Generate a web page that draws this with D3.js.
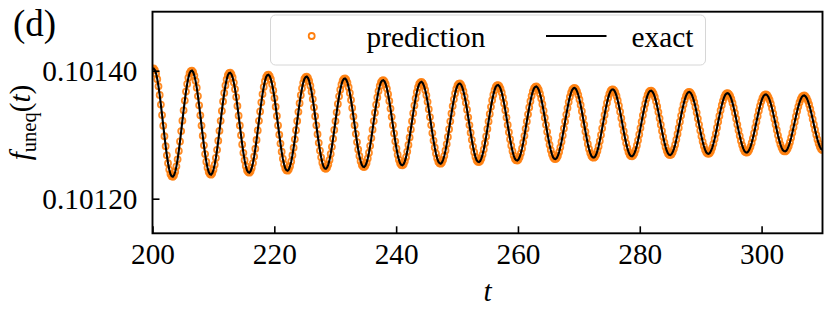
<!DOCTYPE html>
<html>
<head>
<meta charset="utf-8">
<script src="https://cdn.jsdelivr.net/npm/d3@7/dist/d3.min.js"></script>
<style>
  body { margin: 0; background: #fff; }
  svg { display: block; font-family: "Liberation Serif", "DejaVu Serif", serif; }
</style>
</head>
<body>
<div id="chart"></div>
<script>
// axis ticks
const xTicks = [200, 220, 240, 260, 280, 300];
const yTicks = [0.10120, 0.10140];

// sampling grid of the time series (32 samples per oscillation)
const tStart = 200;
const tStep = 0.19635;

// f_uneq(t), one line per oscillation
const prediction = [
  0.1014026, 0.1014034, 0.1014010, 0.1013954, 0.1013868, 0.1013756, 0.1013622, 0.1013470, 0.1013306, 0.1013141, 0.1012976, 0.1012820, 0.1012677, 0.1012554, 0.1012455, 0.1012384,
  0.1012351, 0.1012343, 0.1012366, 0.1012421, 0.1012505, 0.1012615, 0.1012747, 0.1012895, 0.1013056, 0.1013219, 0.1013380, 0.1013533, 0.1013673, 0.1013794, 0.1013891, 0.1013961,
  0.1013993, 0.1014001, 0.1013978, 0.1013924, 0.1013841, 0.1013734, 0.1013604, 0.1013459, 0.1013302, 0.1013142, 0.1012984, 0.1012834, 0.1012697, 0.1012579, 0.1012483, 0.1012415,
  0.1012384, 0.1012375, 0.1012398, 0.1012451, 0.1012532, 0.1012637, 0.1012764, 0.1012907, 0.1013061, 0.1013217, 0.1013372, 0.1013519, 0.1013653, 0.1013770, 0.1013863, 0.1013930,
  0.1013961, 0.1013969, 0.1013946, 0.1013894, 0.1013815, 0.1013712, 0.1013588, 0.1013448, 0.1013297, 0.1013144, 0.1012992, 0.1012848, 0.1012716, 0.1012602, 0.1012511, 0.1012445,
  0.1012415, 0.1012407, 0.1012429, 0.1012480, 0.1012557, 0.1012659, 0.1012780, 0.1012917, 0.1013066, 0.1013216, 0.1013364, 0.1013506, 0.1013635, 0.1013746, 0.1013836, 0.1013901,
  0.1013930, 0.1013938, 0.1013916, 0.1013867, 0.1013790, 0.1013691, 0.1013572, 0.1013437, 0.1013292, 0.1013145, 0.1012999, 0.1012861, 0.1012734, 0.1012625, 0.1012537, 0.1012474,
  0.1012445, 0.1012437, 0.1012458, 0.1012507, 0.1012582, 0.1012679, 0.1012796, 0.1012928, 0.1013070, 0.1013214, 0.1013357, 0.1013493, 0.1013617, 0.1013724, 0.1013810, 0.1013872,
  0.1013901, 0.1013908, 0.1013887, 0.1013840, 0.1013766, 0.1013671, 0.1013556, 0.1013427, 0.1013288, 0.1013147, 0.1013007, 0.1012873, 0.1012752, 0.1012647, 0.1012562, 0.1012501,
  0.1012474, 0.1012466, 0.1012487, 0.1012533, 0.1012605, 0.1012699, 0.1012811, 0.1012938, 0.1013074, 0.1013213, 0.1013350, 0.1013481, 0.1013600, 0.1013703, 0.1013785, 0.1013845,
  0.1013872, 0.1013879, 0.1013860, 0.1013814, 0.1013743, 0.1013652, 0.1013542, 0.1013418, 0.1013284, 0.1013148, 0.1013013, 0.1012885, 0.1012769, 0.1012668, 0.1012586, 0.1012528,
  0.1012501, 0.1012494, 0.1012514, 0.1012559, 0.1012628, 0.1012718, 0.1012826, 0.1012947, 0.1013078, 0.1013212, 0.1013343, 0.1013469, 0.1013583, 0.1013682, 0.1013762, 0.1013819,
  0.1013845, 0.1013852, 0.1013833, 0.1013789, 0.1013721, 0.1013633, 0.1013527, 0.1013408, 0.1013279, 0.1013149, 0.1013020, 0.1012897, 0.1012785, 0.1012688, 0.1012610, 0.1012554,
  0.1012528, 0.1012521, 0.1012540, 0.1012583, 0.1012649, 0.1012736, 0.1012840, 0.1012956, 0.1013082, 0.1013210, 0.1013337, 0.1013457, 0.1013567, 0.1013663, 0.1013739, 0.1013794,
  0.1013819, 0.1013826, 0.1013807, 0.1013765, 0.1013700, 0.1013615, 0.1013514, 0.1013399, 0.1013276, 0.1013150, 0.1013026, 0.1012908, 0.1012800, 0.1012707, 0.1012632, 0.1012578,
  0.1012554, 0.1012547, 0.1012565, 0.1012607, 0.1012670, 0.1012753, 0.1012853, 0.1012965, 0.1013086, 0.1013209, 0.1013331, 0.1013447, 0.1013552, 0.1013644, 0.1013717, 0.1013770,
  0.1013794, 0.1013800, 0.1013783, 0.1013742, 0.1013680, 0.1013598, 0.1013501, 0.1013391, 0.1013272, 0.1013151, 0.1013032, 0.1012919, 0.1012815, 0.1012726, 0.1012654, 0.1012602,
  0.1012578, 0.1012572, 0.1012589, 0.1012629, 0.1012690, 0.1012770, 0.1012866, 0.1012973, 0.1013090, 0.1013208, 0.1013325, 0.1013436, 0.1013538, 0.1013625, 0.1013696, 0.1013747,
  0.1013770, 0.1013776, 0.1013759, 0.1013720, 0.1013660, 0.1013582, 0.1013488, 0.1013382, 0.1013268, 0.1013153, 0.1013038, 0.1012929, 0.1012829, 0.1012743, 0.1012674, 0.1012624,
  0.1012602, 0.1012596, 0.1012612, 0.1012651, 0.1012709, 0.1012786, 0.1012878, 0.1012982, 0.1013094, 0.1013207, 0.1013319, 0.1013426, 0.1013524, 0.1013608, 0.1013676, 0.1013725,
  0.1013747, 0.1013753, 0.1013736, 0.1013699, 0.1013641, 0.1013566, 0.1013476, 0.1013375, 0.1013265, 0.1013154, 0.1013044, 0.1012939, 0.1012843, 0.1012760, 0.1012694, 0.1012646,
  0.1012624, 0.1012619, 0.1012635, 0.1012672, 0.1012728, 0.1012802, 0.1012890, 0.1012989, 0.1013097, 0.1013206, 0.1013314, 0.1013416, 0.1013510, 0.1013591, 0.1013656, 0.1013703,
  0.1013725, 0.1013730, 0.1013715, 0.1013678, 0.1013623, 0.1013551, 0.1013464, 0.1013367, 0.1013261, 0.1013155, 0.1013049, 0.1012948, 0.1012856, 0.1012777, 0.1012713, 0.1012667,
  0.1012646, 0.1012641, 0.1012656, 0.1012691, 0.1012746, 0.1012816, 0.1012901, 0.1012997, 0.1013100, 0.1013205, 0.1013308, 0.1013407, 0.1013497, 0.1013575, 0.1013638, 0.1013683,
  0.1013703, 0.1013709, 0.1013694, 0.1013659, 0.1013606, 0.1013536, 0.1013453, 0.1013360, 0.1013258, 0.1013156, 0.1013054, 0.1012957, 0.1012869, 0.1012793, 0.1012731, 0.1012687,
  0.1012667, 0.1012662, 0.1012677, 0.1012711, 0.1012763, 0.1012831, 0.1012912, 0.1013004, 0.1013103, 0.1013204, 0.1013303, 0.1013398, 0.1013485, 0.1013560, 0.1013620, 0.1013663,
  0.1013683, 0.1013688, 0.1013673, 0.1013640, 0.1013589, 0.1013522, 0.1013442, 0.1013353, 0.1013255, 0.1013157, 0.1013059, 0.1012966, 0.1012881, 0.1012808, 0.1012749, 0.1012707,
  0.1012687, 0.1012682, 0.1012696, 0.1012729, 0.1012779, 0.1012844, 0.1012923, 0.1013011, 0.1013106, 0.1013203, 0.1013299, 0.1013390, 0.1013473, 0.1013545, 0.1013602, 0.1013644,
  0.1013663, 0.1013668, 0.1013654, 0.1013622, 0.1013573, 0.1013509, 0.1013432, 0.1013346, 0.1013252, 0.1013158, 0.1013064, 0.1012974, 0.1012893, 0.1012823, 0.1012766, 0.1012725,
  0.1012707, 0.1012702, 0.1012715, 0.1012747, 0.1012795, 0.1012858, 0.1012933, 0.1013018, 0.1013109, 0.1013202, 0.1013294, 0.1013381, 0.1013461, 0.1013530, 0.1013586, 0.1013626,
  0.1013644, 0.1013649, 0.1013635, 0.1013605, 0.1013558, 0.1013496, 0.1013422, 0.1013339, 0.1013249, 0.1013158, 0.1013068, 0.1012982, 0.1012904, 0.1012837, 0.1012782, 0.1012743,
  0.1012725, 0.1012721, 0.1012734, 0.1012764, 0.1012810, 0.1012870, 0.1012943, 0.1013024, 0.1013112, 0.1013201, 0.1013289, 0.1013374, 0.1013450, 0.1013517, 0.1013570, 0.1013608,
  0.1013626, 0.1013630, 0.1013618, 0.1013588, 0.1013543, 0.1013484, 0.1013413, 0.1013333, 0.1013247, 0.1013159, 0.1013073, 0.1012990, 0.1012915, 0.1012850, 0.1012798, 0.1012760,
  0.1012743, 0.1012739, 0.1012751, 0.1012780, 0.1012824, 0.1012882, 0.1012952, 0.1013030, 0.1013115, 0.1013200, 0.1013285, 0.1013366, 0.1013440, 0.1013503, 0.1013555, 0.1013592,
  0.1013608, 0.1013613, 0.1013600, 0.1013572, 0.1013529, 0.1013472, 0.1013404, 0.1013327, 0.1013244, 0.1013160, 0.1013077, 0.1012998, 0.1012926, 0.1012863, 0.1012813, 0.1012777,
  0.1012760
];
// exact solution lies on top of the prediction at this scale
const exact = prediction;

const tVals = prediction.map((_, i) => tStart + i * tStep);

const width = 830, height = 311;
const plot = { left: 152.5, right: 822.5, top: 11.7, bottom: 233.3 };
const fontSize = 29.3;
const serif = '"Liberation Serif", "DejaVu Serif", serif';

const svg = d3.select('#chart')
    .append('svg')
    .attr('width', width)
    .attr('height', height);

const x = d3.scaleLinear().domain([200, 310]).range([plot.left, plot.right]);
const y = d3.scaleLinear().domain([0.1011459, 0.1014922]).range([plot.bottom, plot.top]);

svg.append('clipPath')
    .attr('id', 'clip')
    .append('rect')
    .attr('x', plot.left)
    .attr('y', plot.top)
    .attr('width', plot.right - plot.left)
    .attr('height', plot.bottom - plot.top);

const data = svg.append('g').attr('clip-path', 'url(#clip)');

// prediction markers
data.selectAll('.pt')
    .data(prediction)
    .enter()
    .append('circle')
    .attr('class', 'pt')
    .attr('cx', (d, i) => x(tVals[i]))
    .attr('cy', d => y(d))
    .attr('r', 3)
    .attr('fill', 'none')
    .attr('stroke', '#ff7f0e')
    .attr('stroke-opacity', 0.9)
    .attr('stroke-width', 1.8);

// exact line
const line = d3.line()
    .x((d, i) => x(tVals[i]))
    .y(d => y(d));

data.append('path')
    .datum(exact)
    .attr('d', line)
    .attr('fill', 'none')
    .attr('stroke', '#000')
    .attr('stroke-width', 2.1);

// axes, ticks pointing inward
const xAxis = d3.axisBottom(x).tickValues(xTicks).tickSizeInner(-7).tickSizeOuter(0).tickPadding(10);
const gx = svg.append('g')
    .attr('transform', `translate(0,${plot.bottom})`)
    .call(xAxis)
    .attr('font-family', serif)
    .attr('font-size', fontSize);
gx.select('.domain').remove();
gx.selectAll('.tick line').attr('stroke', '#000').attr('stroke-width', 1.6);
gx.selectAll('.tick text').attr('fill', '#000');

const yAxis = d3.axisLeft(y).tickValues(yTicks).tickFormat(d3.format('.5f')).tickSizeInner(-7).tickSizeOuter(0).tickPadding(15);
const gy = svg.append('g')
    .attr('transform', `translate(${plot.left},0)`)
    .call(yAxis)
    .attr('font-family', serif)
    .attr('font-size', fontSize);
gy.select('.domain').remove();
gy.selectAll('.tick line').attr('stroke', '#000').attr('stroke-width', 1.6);
gy.selectAll('.tick text').attr('fill', '#000');

// frame
svg.append('rect')
    .attr('x', plot.left)
    .attr('y', plot.top)
    .attr('width', plot.right - plot.left)
    .attr('height', plot.bottom - plot.top)
    .attr('fill', 'none')
    .attr('stroke', '#000')
    .attr('stroke-width', 1.9);

// axis labels
svg.append('text')
    .attr('x', (plot.left + plot.right) / 2)
    .attr('y', 301)
    .attr('text-anchor', 'middle')
    .attr('font-family', serif)
    .style('font-size', fontSize + 'px')
    .style('font-style', 'italic')
    .text('t');

const yl = svg.append('text')
    .attr('transform', `translate(30,${(plot.top + plot.bottom) / 2}) rotate(-90)`)
    .attr('text-anchor', 'middle')
    .attr('font-family', serif)
    .style('font-size', fontSize + 'px');
yl.append('tspan').style('font-style', 'italic').text('f');
yl.append('tspan').attr('dy', 6).style('font-size', '20.5px').text('uneq');
yl.append('tspan').attr('dy', -6).text('(');
yl.append('tspan').style('font-style', 'italic').text('t');
yl.append('tspan').text(')');

// panel tag
svg.append('text')
    .attr('x', 13)
    .attr('y', 36)
    .attr('font-family', serif)
    .style('font-size', '37px')
    .text('(d)');

// legend
const lg = svg.append('g').attr('font-family', serif);
lg.append('rect')
    .attr('x', 270.5)
    .attr('y', 15)
    .attr('width', 435)
    .attr('height', 50)
    .attr('rx', 5)
    .attr('fill', '#fff')
    .attr('fill-opacity', 0.8)
    .attr('stroke', '#d6d6d6')
    .attr('stroke-width', 1);
lg.append('circle')
    .attr('cx', 311.7)
    .attr('cy', 36)
    .attr('r', 3)
    .attr('fill', 'none')
    .attr('stroke', '#ff7f0e')
    .attr('stroke-width', 1.8);
lg.append('text')
    .attr('x', 366.5)
    .attr('y', 46.5)
    .style('font-size', fontSize + 'px')
    .text('prediction');
lg.append('line')
    .attr('x1', 546)
    .attr('x2', 606.5)
    .attr('y1', 36)
    .attr('y2', 36)
    .attr('stroke', '#000')
    .attr('stroke-width', 2.1);
lg.append('text')
    .attr('x', 631.5)
    .attr('y', 46.5)
    .style('font-size', fontSize + 'px')
    .text('exact');
</script>
</body>
</html>
